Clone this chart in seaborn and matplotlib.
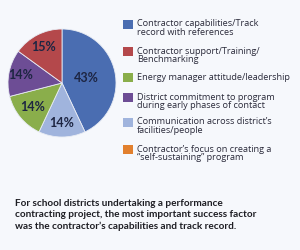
import numpy as np
import matplotlib
matplotlib.use("Agg")
import matplotlib.pyplot as plt
from matplotlib.patches import Rectangle
import seaborn as sns

# ---- data (legend order) ----
categories = [
    "Contractor capabilities/Track\nrecord with references",
    "Contractor support/Training/\nBenchmarking",
    "Energy manager attitude/leadership",
    "District commitment to program\nduring early phases of contact",
    "Communication across district\u2019s\nfacilities/people",
    "Contractor\u2019s focus on creating a\n\u201cself-sustaining\u201d program",
]
values = [43, 15, 14, 14, 14, 0]
colors = ["#4a6db1", "#b4484b", "#8aae4b", "#6d4d95", "#a0b4dd", "#e2802e"]
pie_order = [0, 4, 2, 3, 1]  # clockwise from 12 o'clock
caption = ("For school districts undertaking a performance\n"
           "contracting project, the most important success factor\n"
           "was the contractor\u2019s capabilities and track record.")

sns.set_theme(style="white")
plt.rcParams["font.family"] = ["Open Sans", "DejaVu Sans"]
bg = "#f6f8fc"

fig = plt.figure(figsize=(3.0, 2.5), dpi=100, facecolor=bg)
W, H = 300, 250

ax = fig.add_axes([8 / W, 1 - 137 / H, 108 / W, 108 / H])
ax.set_facecolor(bg)
pv = [values[i] for i in pie_order]
pc = [colors[i] for i in pie_order]
wedges, _ = ax.pie(pv, colors=pc, startangle=90, counterclock=False,
                   wedgeprops=dict(edgecolor="#e8ecf4", linewidth=0.6))
dists = {0: 0.46, 4: 0.74, 2: 0.70, 3: 0.79, 1: 0.74}
for w, idx in zip(wedges, pie_order):
    ang = np.deg2rad((w.theta1 + w.theta2) / 2)
    d = dists[idx]
    ax.text(d * np.cos(ang), d * np.sin(ang), f"{values[idx]}%",
            ha="center", va="center", fontsize=9, fontweight="bold",
            color="#1d2542", family=["Lato", "DejaVu Sans"])
ax.set_xlim(-1, 1)
ax.set_ylim(-1, 1)
ax.set_aspect("equal")
ax.axis("off")

# legend drawn manually
tops = [20, 47, 73, 93, 118, 145]
for cat, col, t in zip(categories, colors, tops):
    fig.patches.append(Rectangle((123 / W, 1 - (t + 9) / H), 10 / W, 9 / H,
                                 transform=fig.transFigure, facecolor=col,
                                 edgecolor="none"))
    fig.text(137 / W, 1 - (t - 0.5) / H, cat, ha="left", va="top",
             fontsize=6.6, color="#2a2a3a", linespacing=0.9)

fig.text(15 / W, 1 - 199.5 / H, caption, ha="left", va="top", fontsize=7.2,
         fontweight="bold", color="#1e1e24", linespacing=1.27,
         family=["Lato", "DejaVu Sans"])

fig.savefig("out.png", dpi=100, facecolor=bg)
